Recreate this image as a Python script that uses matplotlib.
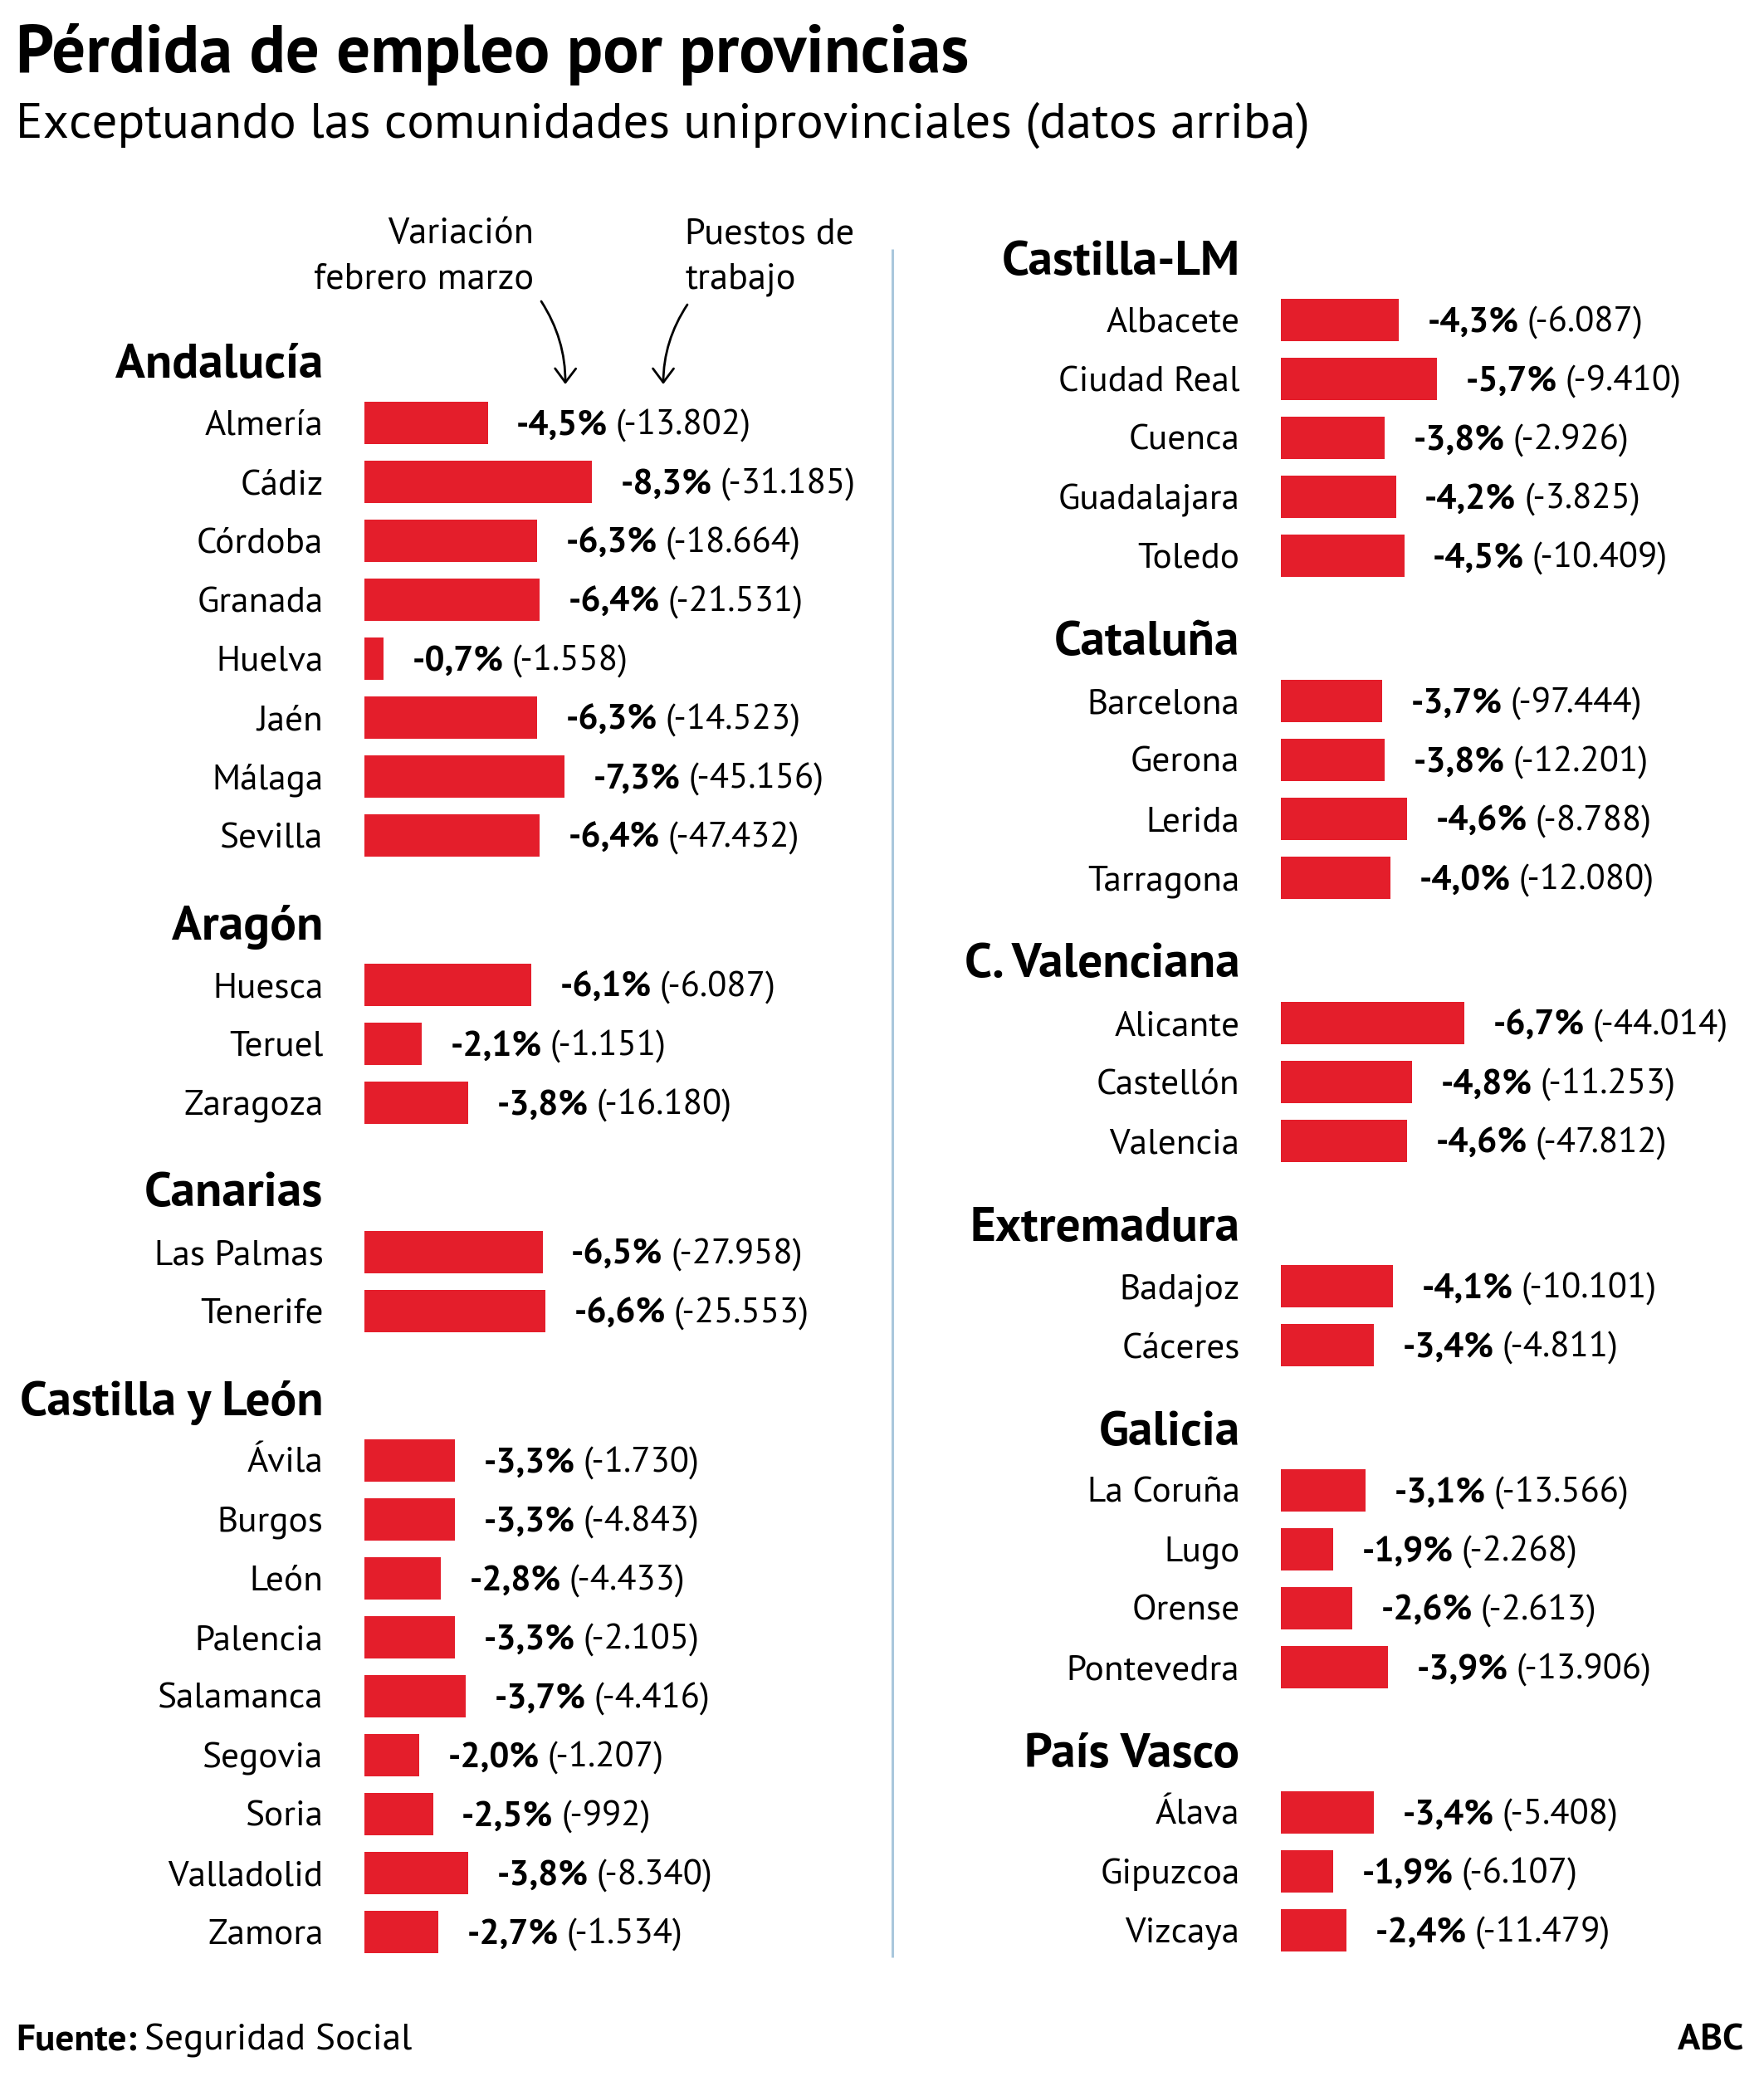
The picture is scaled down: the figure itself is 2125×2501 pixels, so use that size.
import matplotlib.pyplot as plt

plt.rcParams['font.family'] = ['PT Sans', 'DejaVu Sans']

# Datos: variación febrero-marzo (%) y puestos de trabajo
andalucia = ['Almería', 'Cádiz', 'Córdoba', 'Granada', 'Huelva', 'Jaén', 'Málaga', 'Sevilla']
andalucia_pct = [-4.5, -8.3, -6.3, -6.4, -0.7, -6.3, -7.3, -6.4]
andalucia_jobs = [-13802, -31185, -18664, -21531, -1558, -14523, -45156, -47432]

aragon = ['Huesca', 'Teruel', 'Zaragoza']
aragon_pct = [-6.1, -2.1, -3.8]
aragon_jobs = [-6087, -1151, -16180]

canarias = ['Las Palmas', 'Tenerife']
canarias_pct = [-6.5, -6.6]
canarias_jobs = [-27958, -25553]

cyl = ['Ávila', 'Burgos', 'León', 'Palencia', 'Salamanca', 'Segovia', 'Soria', 'Valladolid', 'Zamora']
cyl_pct = [-3.3, -3.3, -2.8, -3.3, -3.7, -2.0, -2.5, -3.8, -2.7]
cyl_jobs = [-1730, -4843, -4433, -2105, -4416, -1207, -992, -8340, -1534]

clm = ['Albacete', 'Ciudad Real', 'Cuenca', 'Guadalajara', 'Toledo']
clm_pct = [-4.3, -5.7, -3.8, -4.2, -4.5]
clm_jobs = [-6087, -9410, -2926, -3825, -10409]

cataluna = ['Barcelona', 'Gerona', 'Lerida', 'Tarragona']
cataluna_pct = [-3.7, -3.8, -4.6, -4.0]
cataluna_jobs = [-97444, -12201, -8788, -12080]

valenciana = ['Alicante', 'Castellón', 'Valencia']
valenciana_pct = [-6.7, -4.8, -4.6]
valenciana_jobs = [-44014, -11253, -47812]

extremadura = ['Badajoz', 'Cáceres']
extremadura_pct = [-4.1, -3.4]
extremadura_jobs = [-10101, -4811]

galicia = ['La Coruña', 'Lugo', 'Orense', 'Pontevedra']
galicia_pct = [-3.1, -1.9, -2.6, -3.9]
galicia_jobs = [-13566, -2268, -2613, -13906]

pvasco = ['Álava', 'Gipuzcoa', 'Vizcaya']
pvasco_pct = [-3.4, -1.9, -2.4]
pvasco_jobs = [-5408, -6107, -11479]

col_izq = [
    ('Andalucía', andalucia, andalucia_pct, andalucia_jobs),
    ('Aragón', aragon, aragon_pct, aragon_jobs),
    ('Canarias', canarias, canarias_pct, canarias_jobs),
    ('Castilla y León', cyl, cyl_pct, cyl_jobs),
]
col_der = [
    ('Castilla-LM', clm, clm_pct, clm_jobs),
    ('Cataluña', cataluna, cataluna_pct, cataluna_jobs),
    ('C. Valenciana', valenciana, valenciana_pct, valenciana_jobs),
    ('Extremadura', extremadura, extremadura_pct, extremadura_jobs),
    ('Galicia', galicia, galicia_pct, galicia_jobs),
    ('País Vasco', pvasco, pvasco_pct, pvasco_jobs),
]

TITULO = 'Pérdida de empleo por provincias'
SUBTITULO = 'Exceptuando las comunidades uniprovinciales (datos arriba)'

ROJO = '#e41e2b'
W, H = 2125, 2501
PX_POR_PCT = 33.0  # escala horizontal de las barras


def fmt_pct(p):
    return f'{p:.1f}'.replace('.', ',') + '%'


def fmt_num(n):
    return '(' + f'{n:,}'.replace(',', '.') + ')'


fig = plt.figure(figsize=(W / 100, H / 100), dpi=100)
renderer = fig.canvas.get_renderer()


def ajustar(texto, ancho, **kw):
    # tamaño de letra para que el texto ocupe el ancho (px) de la referencia
    t = fig.text(0, 0, texto, fontsize=20, **kw)
    w = t.get_window_extent(renderer).width
    t.remove()
    return 20 * ancho / w


FS_TIT = ajustar(TITULO, 1146, fontweight='bold')
FS_SUB = ajustar(SUBTITULO, 1557)
FS_NOM = ajustar('Almería', 143)
FS_GRP = ajustar('Andalucía', 250, fontweight='bold')
FS_VAL = ajustar('-4,5%', 110, fontweight='bold')
FS_NOTA = ajustar('febrero marzo', 266)
FS_PIE = ajustar('Fuente:', 145, fontweight='bold')

# Eje de fondo en píxeles para títulos, flechas y pie
fondo = fig.add_axes([0, 0, 1, 1])
fondo.set_xlim(0, W)
fondo.set_ylim(H, 0)
fondo.axis('off')


def eje_columna(x_ini, x_fin, x_origen):
    ax = fig.add_axes([x_ini / W, 0, (x_fin - x_ini) / W, 1])
    ax.set_xlim((x_ini - x_origen) / PX_POR_PCT, (x_fin - x_origen) / PX_POR_PCT)
    ax.set_ylim(H, 0)
    ax.axis('off')
    return ax


def dibujar_columna(ax, grupos, y_titulo, hueco):
    y = y_titulo
    for titulo, nombres, pct, puestos in grupos:
        ax.text(-1.5, y, titulo, ha='right', va='center_baseline',
                fontsize=FS_GRP, fontweight='bold')
        y += 75
        ys = [y + i * 71 for i in range(len(nombres))]
        ax.barh(ys, [abs(p) for p in pct], height=51, left=0, color=ROJO, linewidth=0)
        for yi, nombre, p, n in zip(ys, nombres, pct, puestos):
            ax.text(-1.5, yi, nombre, ha='right', va='center_baseline', fontsize=FS_NOM)
            t = ax.text(abs(p) + 1.05, yi, fmt_pct(p), ha='left', va='center_baseline',
                        fontsize=FS_VAL, fontweight='bold')
            ax.annotate(fmt_num(n), xy=(1, 0), xycoords=t, xytext=(7, 0),
                        textcoords='offset points', ha='left', va='bottom', fontsize=FS_VAL)
        y = ys[-1] + hueco


ax_izq = eje_columna(0, 1075, 439)
ax_der = eje_columna(1075, W, 1543)
dibujar_columna(ax_izq, col_izq, 434, 105)
dibujar_columna(ax_der, col_der, 310, 100)

# Títulos
fondo.text(19, 87, TITULO, fontsize=FS_TIT, fontweight='bold', va='baseline')
fondo.text(19, 166, SUBTITULO, fontsize=FS_SUB, va='baseline')

# Explicación con flechas
fondo.text(643, 278, 'Variación', ha='right', va='center_baseline', fontsize=FS_NOTA)
fondo.text(643, 332, 'febrero marzo', ha='right', va='center_baseline', fontsize=FS_NOTA)
fondo.text(825, 278, 'Puestos de', ha='left', va='center_baseline', fontsize=FS_NOTA)
fondo.text(825, 332, 'trabajo', ha='left', va='center_baseline', fontsize=FS_NOTA)
flecha = dict(arrowstyle='->,head_length=0.6,head_width=0.45', lw=2, color='black',
              shrinkA=0, shrinkB=0, mutation_scale=20)
fondo.annotate('', xy=(681, 463), xytext=(652, 363),
               arrowprops=dict(flecha, connectionstyle='arc3,rad=-0.15'))
fondo.annotate('', xy=(799, 463), xytext=(828, 367),
               arrowprops=dict(flecha, connectionstyle='arc3,rad=0.15'))

# Separador
fondo.vlines(1075, 300, 2358, color='#a9c7dc', lw=2.2)

# Pie
f = fondo.text(19, 2470, 'Fuente:', fontsize=FS_PIE, fontweight='bold', va='baseline')
fondo.annotate('Seguridad Social', xy=(1, 0), xycoords=f, xytext=(7, 0),
               textcoords='offset points', ha='left', va='bottom', fontsize=FS_PIE)
fondo.text(2100, 2470, 'ABC', fontsize=FS_PIE, fontweight='bold', ha='right', va='baseline')

fig.savefig('out.png', dpi=100)
